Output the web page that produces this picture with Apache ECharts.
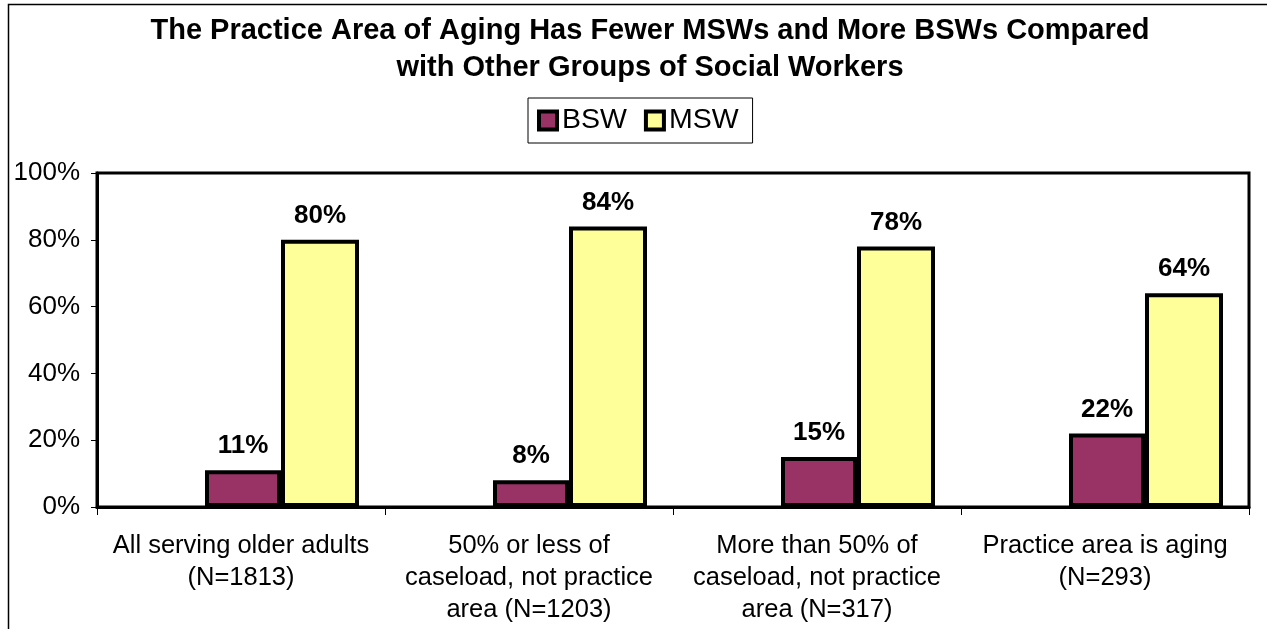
<!DOCTYPE html>
<html>
<head>
<meta charset="utf-8">
<script src="https://cdn.jsdelivr.net/npm/echarts@6/dist/echarts.min.js"></script>
<style>
html,body{margin:0;padding:0;background:#fff;}
#chart{width:1267px;height:629px;}
</style>
</head>
<body>
<div id="chart"></div>
<script>
const titleText = 'The Practice Area of Aging Has Fewer MSWs and More BSWs Compared\nwith Other Groups of Social Workers';
const categories = [
  'All serving older adults\n(N=1813)',
  '50% or less of\ncaseload, not practice\narea (N=1203)',
  'More than 50% of\ncaseload, not practice\narea (N=317)',
  'Practice area is aging\n(N=293)'
];
const seriesNames = ['BSW', 'MSW'];
const bswValues = [11, 8, 15, 22];
const mswValues = [80, 84, 78, 64];
const emptyValues = [null, null, null, null];
const yTicks = [0, 20, 40, 60, 80, 100];

const FONT = "'Liberation Sans', Arial, sans-serif";
const chart = echarts.init(document.getElementById('chart'), null, {renderer: 'canvas'});

const labelCfg = {
  show: true, position: 'top', distance: 11,
  formatter: p => Math.round(p.value) + '%',
  fontFamily: FONT, fontWeight: 'bold', fontSize: 26, color: '#000'
};

chart.setOption({
  backgroundColor: '#fff',
  animation: false,
  title: {
    text: titleText,
    left: 645, top: 7, textAlign: 'center',
    textStyle: {fontFamily: FONT, fontWeight: 'bold', fontSize: 29, lineHeight: 37, color: '#000'}
  },
  legend: {
    data: seriesNames,
    left: 528, top: 98,
    orient: 'horizontal',
    borderColor: '#000', borderWidth: 1,
    padding: [8, 14, 8, 9],
    itemWidth: 18, itemHeight: 18, itemGap: 17,
    icon: 'rect',
    itemStyle: {borderColor: '#000', borderWidth: 4},
    textStyle: {fontFamily: FONT, fontSize: 28.5, color: '#000', padding: [0, 0, 0, 0]}
  },
  grid: {
    left: 97, right: 18, top: 173, bottom: 122,
    show: true, borderColor: '#000', borderWidth: 3, backgroundColor: '#fff'
  },
  graphic: [{
    type: 'rect', z: -1, silent: true,
    shape: {x: 8.5, y: 4.5, width: 1300, height: 700},
    style: {fill: null, stroke: '#000', lineWidth: 1.5}
  }],
  xAxis: {
    type: 'category',
    data: categories,
    axisLine: {show: true, lineStyle: {color: '#000', width: 3}},
    axisTick: {show: true, alignWithLabel: false, length: 8, lineStyle: {color: '#000', width: 1}},
    axisLabel: {fontFamily: FONT, fontSize: 25.5, color: '#000', lineHeight: 32, margin: 23, interval: 0}
  },
  yAxis: {
    type: 'value',
    min: yTicks[0], max: yTicks[yTicks.length - 1], interval: 20,
    axisLine: {show: true, lineStyle: {color: '#000', width: 3}},
    axisTick: {show: true, length: 6, lineStyle: {color: '#000', width: 1}},
    splitLine: {show: false},
    axisLabel: {fontFamily: FONT, fontSize: 26, color: '#000', margin: 17, formatter: '{value}%'}
  },
  series: [
    {
      name: '_spacer', type: 'bar', data: emptyValues,
      barWidth: 82, barGap: '0%', silent: true
    },
    {
      name: 'BSW', type: 'bar', data: bswValues,
      barWidth: 76, barGap: '0%',
      itemStyle: {color: '#993366', borderColor: '#000', borderWidth: 4},
      label: labelCfg
    },
    {
      name: 'MSW', type: 'bar', data: mswValues,
      barWidth: 78, barGap: '0%',
      itemStyle: {color: '#FFFF99', borderColor: '#000', borderWidth: 4},
      label: labelCfg
    }
  ]
});
</script>
</body>
</html>
